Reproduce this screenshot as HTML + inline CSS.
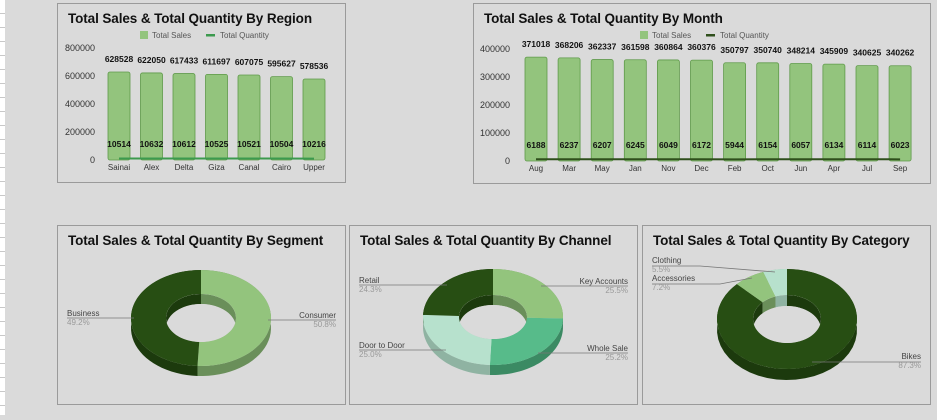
<!DOCTYPE html>
<html><head><meta charset="utf-8"><style>
body{margin:0;width:937px;height:420px;overflow:hidden;background:#dadada;font-family:"Liberation Sans",sans-serif;position:relative}
.panel{position:absolute;border:1px solid #9a9a9a;background:#dadada;box-sizing:border-box}
.title{position:absolute;left:10px;top:7px;font-size:13.5px;font-weight:bold;color:#111;white-space:nowrap;letter-spacing:-0.1px}
svg{position:absolute;left:0;top:0}
</style></head><body>
<div style="position:absolute;left:0;top:0;width:5px;height:415px;background:repeating-linear-gradient(#fff 0,#fff 13px,#c8c8c8 13px,#c8c8c8 14px)"></div>
<div class="panel" style="left:57px;top:3px;width:289px;height:180px"><div class="title">Total Sales &amp; Total Quantity By Region</div></div>
<div class="panel" style="left:473px;top:3px;width:458px;height:181px"><div class="title">Total Sales &amp; Total Quantity By Month</div></div>
<div class="panel" style="left:57px;top:225px;width:289px;height:180px"><div class="title">Total Sales &amp; Total Quantity By Segment</div></div>
<div class="panel" style="left:349px;top:225px;width:289px;height:180px"><div class="title">Total Sales &amp; Total Quantity By Channel</div></div>
<div class="panel" style="left:642px;top:225px;width:289px;height:180px"><div class="title">Total Sales &amp; Total Quantity By Category</div></div>
<svg id="svg" width="937" height="420"><defs id="defs"></defs></svg>
<script>
const regionCats=["Sainai","Alex","Delta","Giza","Canal","Cairo","Upper"];
const regionSales=[628528,622050,617433,611697,607075,595627,578536];
const regionQty=[10514,10632,10612,10525,10521,10504,10216];
const regionTicks=[0,200000,400000,600000,800000];
const monthCats=["Aug","Mar","May","Jan","Nov","Dec","Feb","Oct","Jun","Apr","Jul","Sep"];
const monthSales=[371018,368206,362337,361598,360864,360376,350797,350740,348214,345909,340625,340262];
const monthQty=[6188,6237,6207,6245,6049,6172,5944,6154,6057,6134,6114,6023];
const monthTicks=[0,100000,200000,300000,400000];
const segLabels=["Consumer","Business"];
const segValues=[50.8,49.2];
const chanLabels=["Key Accounts","Whole Sale","Door to Door","Retail"];
const chanValues=[25.5,25.2,25.0,24.3];
const catLabels=["Bikes","Accessories","Clothing"];
const catValues=[87.3,7.2,5.5];

const NS="http://www.w3.org/2000/svg";
const svg=document.getElementById('svg');
const defs=document.getElementById('defs');
function el(tag,attrs,text,parent){const e=document.createElementNS(NS,tag);for(const k in attrs)e.setAttribute(k,attrs[k]);if(text!==undefined&&text!==null)e.textContent=text;(parent||svg).appendChild(e);return e;}

function barChart(o){
  const y=v=>o.y0-v*o.pxPer/o.step;
  o.ticks.forEach(t=>{const e=el('text',{x:o.axisX,y:y(t)+3,'text-anchor':'end','font-size':9,fill:'#333'},t);
    
    });
  const lx=o.legendX;
  let e=el('rect',{x:lx,y:o.legendY-4,width:8,height:8,fill:'#93c47d'});
  
  e=el('text',{x:lx+12,y:o.legendY+3,'font-size':8,fill:'#555'},'Total Sales');
  
  e=el('rect',{x:lx+66,y:o.legendY-1,width:9,height:2.5,fill:o.lineColor});
  
  e=el('text',{x:lx+80,y:o.legendY+3,'font-size':8,fill:'#555'},'Total Quantity');
  
  const pts=[];
  o.cats.forEach((c,i)=>{
    const cx=o.x0+i*o.sp;
    const b=el('rect',{x:cx-o.bw/2,y:y(o.sales[i]),width:o.bw,height:o.y0-y(o.sales[i]),rx:2,fill:'#93c47d',stroke:'#5f9a4a','stroke-width':0.8});
    
    
    const t=el('text',{x:cx,y:y(o.sales[i])-10,'text-anchor':'middle','font-size':8.5,'font-weight':'bold',fill:'#111'},o.sales[i]);
    
    
    const q=el('text',{x:cx,y:o.y0-13,'text-anchor':'middle','font-size':8.5,'font-weight':'bold',fill:'#111'},o.qty[i]);
    
    
    const xl=el('text',{x:cx,y:o.y0+10,'text-anchor':'middle','font-size':8,fill:'#333'},c);
    
    
    pts.push(cx+','+y(o.qty[i]));
  });
  const l=el('polyline',{points:pts.join(' '),fill:'none',stroke:o.lineColor,'stroke-width':2});
  
  
}
barChart({cats:regionCats,sales:regionSales,qty:regionQty,ticks:regionTicks,y0:160,step:200000,pxPer:28,x0:119,sp:32.5,bw:22,axisX:95,legendX:140,legendY:35,lineColor:'#3c9a4e'});
barChart({cats:monthCats,sales:monthSales,qty:monthQty,ticks:monthTicks,y0:161,step:100000,pxPer:28,x0:536,sp:33.1,bw:22,axisX:510,legendX:640,legendY:35,lineColor:'#2f4f1c'});

let clipId=0;
function donut(o){
  const {cx,cy,rx,ry,irx,iry,d}=o;
  const P=(a,r1,r2,dy)=>[cx+r1*Math.sin(a),cy-r2*Math.cos(a)+(dy||0)];
  const total=o.values.reduce((a,b)=>a+b,0);
  let a0=0;const segs=[];
  o.values.forEach((v,i)=>{const a1=a0+v/total*2*Math.PI;segs.push([a0,a1,i]);a0=a1;});
  segs.forEach(([s,e,i])=>{
    const pts=[];const N=40;
    for(let k=0;k<=N;k++){const a=s+(e-s)*k/N;pts.push(P(a,rx,ry));}
    for(let k=N;k>=0;k--){const a=s+(e-s)*k/N;pts.push(P(a,rx,ry,d));}
    const p=el('polygon',{points:pts.map(p=>p.join(',')).join(' '),fill:o.side[i]});
    
    
  });
  segs.forEach(([s,e,i])=>{
    const pts=[];const N=60;
    for(let k=0;k<=N;k++){const a=s+(e-s)*k/N;pts.push(P(a,rx,ry));}
    for(let k=N;k>=0;k--){const a=s+(e-s)*k/N;pts.push(P(a,irx,iry));}
    const p=el('polygon',{points:pts.map(p=>p.join(',')).join(' '),fill:o.colors[i]});
    
    
  });
  const id='hole'+(clipId++);
  const cp=el('clipPath',{id:id},null,defs);
  el('ellipse',{cx:cx,cy:cy,rx:irx,ry:iry},null,cp);
  const g=el('g',{'clip-path':'url(#'+id+')'});
  
  
  segs.forEach(([s,e,i])=>{
    const pts=[];const N=60;
    for(let k=0;k<=N;k++){const a=s+(e-s)*k/N;pts.push(P(a,irx,iry));}
    for(let k=N;k>=0;k--){const a=s+(e-s)*k/N;pts.push(P(a,irx,iry,d));}
    el('polygon',{points:pts.map(p=>p.join(',')).join(' '),fill:o.side[i]},null,g);
  });
  el('ellipse',{cx:cx,cy:cy+d,rx:irx,ry:iry,fill:'#dadada'},null,g);
  o.lbl.forEach((L,i)=>{
    const ln=el('polyline',{points:L.line,fill:'none',stroke:'#777','stroke-width':0.8});
    
    
    const t=el('text',{x:L.x,y:L.y,'text-anchor':L.anchor,'font-size':8,fill:'#444'},o.labels[i]);
    
    
    const p=el('text',{x:L.x,y:L.y+9,'text-anchor':L.anchor,'font-size':8,fill:'#999'},o.values[i].toFixed(1)+'%');
    
    
  });
}
donut({cx:201,cy:318,rx:70,ry:48,irx:35,iry:24,d:10,labels:segLabels,values:segValues,
  colors:['#93c47d','#274e13'],side:['#6a8f5a','#1c3a0d'],
  lbl:[{x:336,y:318,anchor:'end',line:'268,320 336,320'},{x:67,y:316,anchor:'start',line:'67,318 134,318'}]});
donut({cx:493,cy:317,rx:70,ry:48,irx:34,iry:22,d:10,labels:chanLabels,values:chanValues,
  colors:['#93c47d','#57bb8a','#b7e1cd','#274e13'],side:['#6a8f5a','#3b8a63','#8fb3a2','#1c3a0d'],
  lbl:[{x:628,y:284,anchor:'end',line:'541,286 628,286'},{x:628,y:351,anchor:'end',line:'538,353 628,353'},{x:359,y:348,anchor:'start',line:'359,350 446,350'},{x:359,y:283,anchor:'start',line:'359,285 447,285'}]});
donut({cx:787,cy:319,rx:70,ry:50,irx:34,iry:24,d:11,labels:catLabels,values:catValues,
  colors:['#274e13','#93c47d','#b7e1cd'],side:['#1c3a0d','#6a8f5a','#8fb3a2'],
  lbl:[{x:921,y:359,anchor:'end',line:'812,362 921,362'},{x:652,y:281,anchor:'start',line:'652,284 720,284 752,278'},{x:652,y:263,anchor:'start',line:'652,266 700,266 775,272'}]});
</script>
</body></html>
